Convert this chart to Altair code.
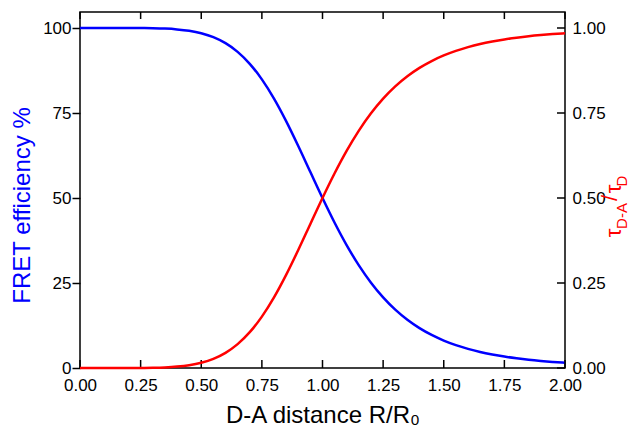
import altair as alt
import pandas as pd

# D-A distance R/R0
ratio = [0.00, 0.05, 0.10, 0.15, 0.20, 0.25, 0.30, 0.35, 0.40, 0.45,
         0.50, 0.55, 0.60, 0.65, 0.70, 0.75, 0.80, 0.85, 0.90, 0.95,
         1.00, 1.05, 1.10, 1.15, 1.20, 1.25, 1.30, 1.35, 1.40, 1.45,
         1.50, 1.55, 1.60, 1.65, 1.70, 1.75, 1.80, 1.85, 1.90, 1.95, 2.00]
# FRET efficiency % (blue, left axis)
fret = [100.0, 100.0, 100.0, 100.0, 99.99, 99.98, 99.93, 99.82, 99.59, 99.18,
        98.46, 97.31, 95.54, 92.99, 89.47, 84.89, 79.23, 72.61, 65.30, 57.63,
        50.00, 42.73, 36.08, 30.18, 25.09, 20.77, 17.16, 14.18, 11.72, 9.71,
        8.07, 6.73, 5.63, 4.72, 3.98, 3.36, 2.86, 2.43, 2.08, 1.79, 1.54]
# tau_DA / tau_D (red, right axis)
tau = [0.0, 0.0, 0.0, 0.0, 0.0001, 0.0002, 0.0007, 0.0018, 0.0041, 0.0082,
       0.0154, 0.0269, 0.0446, 0.0701, 0.1053, 0.1511, 0.2077, 0.2739, 0.3470, 0.4237,
       0.5000, 0.5727, 0.6392, 0.6982, 0.7491, 0.7923, 0.8284, 0.8582, 0.8828, 0.9029,
       0.9193, 0.9327, 0.9437, 0.9528, 0.9602, 0.9664, 0.9714, 0.9757, 0.9792, 0.9821, 0.9846]

x_ticks = [0.0, 0.25, 0.5, 0.75, 1.0, 1.25, 1.5, 1.75, 2.0]
y_left_ticks = [0, 25, 50, 75, 100]
y_right_ticks = [0.0, 0.25, 0.5, 0.75, 1.0]

df = pd.DataFrame({"r": ratio, "E": fret, "T": tau})
df_xt = pd.DataFrame({"r": x_ticks})
df_yt = pd.DataFrame({"E": y_left_ticks})
one = pd.DataFrame({"a": [0]})

W, H = 485, 356
FONT = "Liberation Sans"
BLUE = "#0000FF"
RED = "#FF0000"

xs = alt.Scale(domain=[0, 2], nice=False, zero=False)
yL = alt.Scale(domain=[0, 104.706], nice=False)
yR = alt.Scale(domain=[0, 1.04706], nice=False)

x_axis = alt.Axis(values=x_ticks, format=".2f", tickSize=0, domain=False, grid=False,
                  labelFontSize=17, labelPadding=9, labelFlush=False, labelOverlap=False,
                  title="D-A distance R/R₀", titleFontSize=24, titleFontWeight="normal",
                  titleColor="black", titleY=54, titleBaseline="alphabetic")

blue = alt.Chart(df).mark_line(color=BLUE, strokeWidth=2.5, interpolate="monotone").encode(
    x=alt.X("r:Q", scale=xs, axis=x_axis),
    y=alt.Y("E:Q", scale=yL, axis=alt.Axis(
        values=y_left_ticks, tickSize=8, tickWidth=1.5, tickColor="black",
        domain=False, grid=False, labelFontSize=17, labelPadding=1,
        title="FRET efficiency %", titleColor=BLUE, titleFontSize=24,
        titleFontWeight="normal", titleX=-58, titleY=193, titleAngle=270,
        titleAlign="center", titleBaseline="middle")),
)

bottom_ticks = alt.Chart(df_xt).mark_rule(color="black", strokeWidth=1.5).encode(
    x=alt.X("r:Q", scale=xs), y=alt.value(H), y2=alt.value(H - 8))
top_ticks = alt.Chart(df_xt).mark_rule(color="black", strokeWidth=1.5).encode(
    x=alt.X("r:Q", scale=xs), y=alt.value(0), y2=alt.value(7))
right_ticks = alt.Chart(df_yt).mark_rule(color="black", strokeWidth=1.5).encode(
    y=alt.Y("E:Q", scale=yL), x=alt.value(W), x2=alt.value(W - 8))

left = alt.layer(blue, bottom_ticks, top_ticks, right_ticks)

red = alt.Chart(df).mark_line(color=RED, strokeWidth=2.5, interpolate="monotone").encode(
    x=alt.X("r:Q", scale=xs),
    y=alt.Y("T:Q", scale=yR, axis=alt.Axis(
        orient="right", values=y_right_ticks, format=".2f", tickSize=0,
        domain=False, grid=False, labelFontSize=17, labelPadding=7, title="")),
)

def piece(txt, px, py, size):
    return alt.Chart(one).mark_text(text=txt, angle=270, align="center", baseline="middle",
                                    font=FONT, fontSize=size, color=RED).encode(
        x=alt.value(px), y=alt.value(py))

labels = [
    piece("τ", 534, 221, 22),
    piece("D-A", 542, 204, 15),
    piece("/", 530, 186, 22),
    piece("τ", 534, 177, 22),
    piece("D", 542, 169, 15),
]

chart = alt.layer(left, red, *labels).resolve_scale(y="independent").properties(
    width=W, height=H,
    padding={"left": 72, "top": 4, "right": 67, "bottom": 58},
    autosize="none",
).configure_view(stroke="black", strokeWidth=1.5).configure_axis(
    labelFont=FONT, titleFont=FONT, labelColor="black"
)

chart.save("out.html", embed_options={"renderer": "svg", "actions": False})
